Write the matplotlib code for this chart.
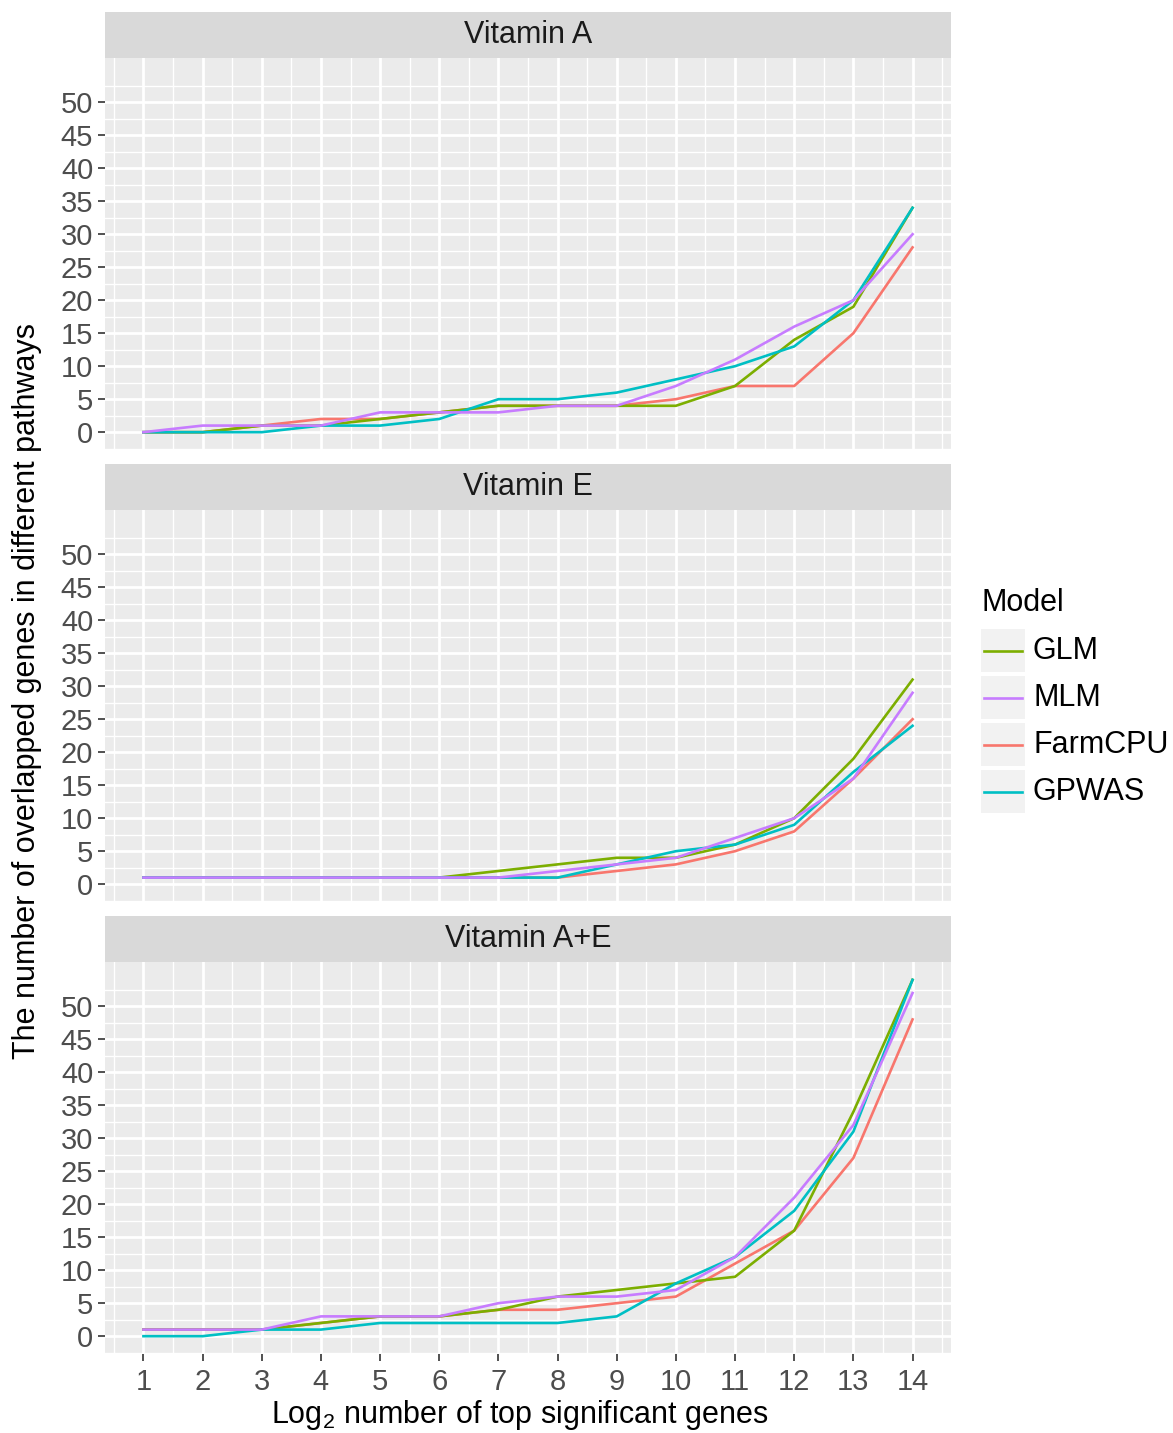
import matplotlib
matplotlib.use("Agg")
import matplotlib.pyplot as plt
from matplotlib.patches import Rectangle

plt.rcParams["font.family"] = ["Liberation Sans", "DejaVu Sans"]

# x axis: log2 of number of top significant genes
log2_genes = list(range(1, 15))
y_breaks = list(range(0, 51, 5))

panels = ["Vitamin A", "Vitamin E", "Vitamin A+E"]
legend_order = ["GLM", "MLM", "FarmCPU", "GPWAS"]
draw_order = ["FarmCPU", "GLM", "GPWAS", "MLM"]
colours = {"FarmCPU": "#F8766D", "GLM": "#7CAE00", "GPWAS": "#00BFC4", "MLM": "#C77CFF"}

vit_a_glm = [0, 0, 1, 1, 2, 3, 4, 4, 4, 4, 7, 14, 19, 34]
vit_a_mlm = [0, 1, 1, 1, 3, 3, 3, 4, 4, 7, 11, 16, 20, 30]
vit_a_farmcpu = [0, 0, 1, 2, 2, 3, 4, 4, 4, 5, 7, 7, 15, 28]
vit_a_gpwas = [0, 0, 0, 1, 1, 2, 5, 5, 6, 8, 10, 13, 20, 34]

vit_e_glm = [1, 1, 1, 1, 1, 1, 2, 3, 4, 4, 6, 10, 19, 31]
vit_e_mlm = [1, 1, 1, 1, 1, 1, 1, 2, 3, 4, 7, 10, 16, 29]
vit_e_farmcpu = [1, 1, 1, 1, 1, 1, 1, 1, 2, 3, 5, 8, 16, 25]
vit_e_gpwas = [1, 1, 1, 1, 1, 1, 1, 1, 3, 5, 6, 9, 17, 24]

vit_ae_glm = [1, 1, 1, 2, 3, 3, 4, 6, 7, 8, 9, 16, 34, 54]
vit_ae_mlm = [1, 1, 1, 3, 3, 3, 5, 6, 6, 7, 12, 21, 32, 52]
vit_ae_farmcpu = [1, 1, 1, 2, 3, 3, 4, 4, 5, 6, 11, 16, 27, 48]
vit_ae_gpwas = [0, 0, 1, 1, 2, 2, 2, 2, 3, 8, 12, 19, 31, 54]

series = {
    "Vitamin A": {"GLM": vit_a_glm, "MLM": vit_a_mlm, "FarmCPU": vit_a_farmcpu, "GPWAS": vit_a_gpwas},
    "Vitamin E": {"GLM": vit_e_glm, "MLM": vit_e_mlm, "FarmCPU": vit_e_farmcpu, "GPWAS": vit_e_gpwas},
    "Vitamin A+E": {"GLM": vit_ae_glm, "MLM": vit_ae_mlm, "FarmCPU": vit_ae_farmcpu, "GPWAS": vit_ae_gpwas},
}

W, H = 1173, 1433
fig = plt.figure(figsize=(W / 100, H / 100), dpi=100)


def box(left, top, width, height):
    # pixel box (from top-left) -> figure fraction
    return [left / W, 1 - (top + height) / H, width / W, height / H]


panel_left, panel_width, panel_height, strip_height = 105, 846, 392, 46
panel_tops = [58, 510, 962]

for i, name in enumerate(panels):
    top = panel_tops[i]
    ax = fig.add_axes(box(panel_left, top, panel_width, panel_height))
    ax.set_facecolor("#EBEBEB")
    for sp in ax.spines.values():
        sp.set_visible(False)

    for model in draw_order:
        ax.plot(log2_genes, series[name][model], color=colours[model], lw=1.9,
                solid_joinstyle="round")

    ax.set_xlim(0.35, 14.65)
    ax.set_ylim(-2.7, 56.7)
    ax.set_xticks(log2_genes)
    ax.set_xticks([x + 0.5 for x in range(15)], minor=True)
    ax.set_yticks(y_breaks)
    ax.set_yticks([y + 2.5 for y in range(-5, 55, 5)], minor=True)
    ax.grid(which="major", color="white", lw=2.0)
    ax.grid(which="minor", color="white", lw=1.0)
    ax.set_axisbelow(True)
    ax.tick_params(which="minor", length=0)
    ax.tick_params(which="major", length=5, width=1.2, color="#333333",
                   labelcolor="#4D4D4D", labelsize=21, pad=3.5)
    ax.tick_params(axis="x", which="major", pad=5)
    if i < len(panels) - 1:
        ax.tick_params(axis="x", which="major", length=0, labelbottom=False)

    strip = fig.add_axes(box(panel_left, top - strip_height, panel_width, strip_height))
    strip.set_facecolor("#D9D9D9")
    strip.set_xticks([])
    strip.set_yticks([])
    for sp in strip.spines.values():
        sp.set_visible(False)
    strip.text(0.5, 0.5, name, ha="center", va="center", fontsize=22,
               color="#1A1A1A", transform=strip.transAxes)

fig.text(27 / W, 1 - 691 / H, "The number of overlapped genes in different pathways",
         rotation=90, ha="center", va="center", fontsize=22)
fig.text(520 / W, 1 - 1415 / H, r"Log$_\mathregular{2}$ number of top significant genes",
         ha="center", va="center", fontsize=22)

# legend drawn by hand, ggplot style
leg = fig.add_axes([0, 0, 1, 1])
leg.set_xlim(0, W)
leg.set_ylim(H, 0)
leg.axis("off")
leg.text(982, 603, "Model", ha="left", va="center", fontsize=22)
for k, model in enumerate(legend_order):
    key_top = 629 + 47 * k
    leg.add_patch(Rectangle((981, key_top), 44, 43, facecolor="#F2F2F2", edgecolor="none"))
    leg.plot([984, 1022], [key_top + 21.5] * 2, color=colours[model], lw=1.9)
    leg.text(1033, key_top + 21.5, model, ha="left", va="center", fontsize=22)

fig.savefig("out.png", dpi=100)
